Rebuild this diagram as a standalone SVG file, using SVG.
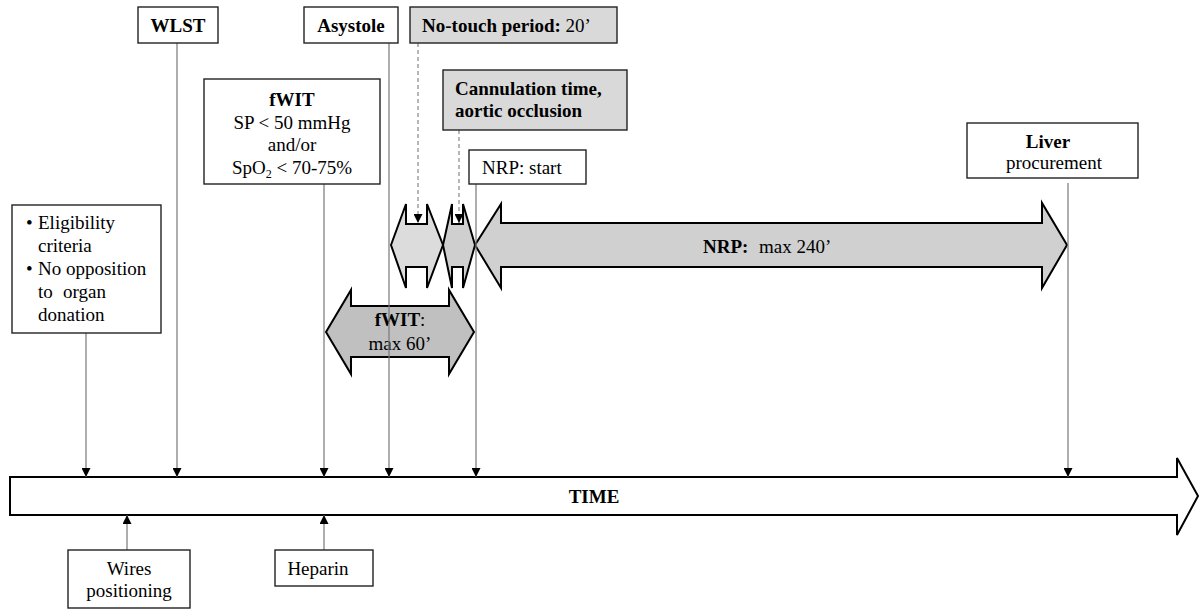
<svg xmlns="http://www.w3.org/2000/svg" width="1199" height="610" viewBox="0 0 1199 610">
<defs>
<marker id="ah" viewBox="0 0 10 10" refX="10" refY="5" markerWidth="9" markerHeight="9" markerUnits="userSpaceOnUse" orient="auto">
<path d="M0,0 L10,5 L0,10 z" fill="#000"/>
</marker>
</defs>
<style>
text{font-family:"Liberation Serif","Times New Roman",serif;font-size:19px;fill:#000}
.b{font-weight:bold}
.box{fill:#fff;stroke:#222;stroke-width:1.4}
.gbox{fill:#d9d9d9;stroke:#222;stroke-width:1.4}
.shape{stroke:#000;stroke-width:2;stroke-linejoin:miter}
.ln{stroke:#777;stroke-width:1.2;fill:none}
.dl{stroke:#888;stroke-width:1.2;stroke-dasharray:4,3;fill:none}
</style>
<rect width="1199" height="610" fill="#fff"/>

<g id="time">
<path class="shape" d="M10,477 L1177,477 L1177,458 L1198,496 L1177,535 L1177,515 L10,515 Z" fill="#fff"/>
<text class="b" x="594" y="503" text-anchor="middle">TIME</text>
</g>

<g id="nrp-arrow">
<path class="shape" fill="#d0d0d0" d="M475,245 L501,204 L501,223 L1042,223 L1042,203 L1067,245 L1042,288 L1042,267 L501,267 L501,288 Z"/>
<text x="703" y="253"><tspan class="b">NRP:</tspan><tspan x="759">max 240’</tspan></text>
</g>

<g id="notouch-arrow">
<path class="shape" fill="#dcdcdc" d="M391,245 L406,204 L406,224 L427,224 L427,204 L443,245 L427,288 L427,267 L406,267 L406,288 Z"/>
</g>
<g id="cannulation-arrow">
<path class="shape" fill="#cfcfcf" d="M443,245 L452,204 L452,224 L463,224 L463,204 L475,245 L463,288 L463,267 L452,267 L452,288 Z"/>
</g>

<g id="fwit-arrow">
<path class="shape" fill="#c0c0c0" d="M326,332 L351,290 L351,306 L449,306 L449,290 L474,332 L449,374 L449,357 L351,357 L351,374 Z"/>
<text x="400" y="326" text-anchor="middle"><tspan class="b">fWIT</tspan>:</text>
<text x="400" y="350" text-anchor="middle">max 60’</text>
</g>

<g id="connectors">
<line class="ln" x1="86" y1="333" x2="86" y2="477" marker-end="url(#ah)"/>
<line class="ln" x1="177" y1="43" x2="177" y2="477" marker-end="url(#ah)"/>
<line class="ln" x1="324" y1="184" x2="324" y2="477" marker-end="url(#ah)"/>
<line class="ln" x1="389" y1="43" x2="389" y2="477" marker-end="url(#ah)"/>
<line class="ln" x1="476" y1="184" x2="476" y2="477" marker-end="url(#ah)"/>
<line class="ln" x1="1068" y1="183" x2="1068" y2="477" marker-end="url(#ah)"/>
<line class="ln" x1="127" y1="550" x2="127" y2="515" marker-end="url(#ah)"/>
<line class="ln" x1="324" y1="550" x2="324" y2="515" marker-end="url(#ah)"/>
<line class="dl" x1="418" y1="43" x2="418" y2="223" marker-end="url(#ah)"/>
<line class="dl" x1="459" y1="130" x2="459" y2="223" marker-end="url(#ah)"/>
</g>

<g id="wlst">
<rect class="box" x="138" y="7" width="80" height="36"/>
<text class="b" x="178" y="32" text-anchor="middle">WLST</text>
</g>
<g id="asystole">
<rect class="box" x="304" y="7" width="94" height="36"/>
<text class="b" x="351" y="32" text-anchor="middle">Asystole</text>
</g>
<g id="notouch">
<rect class="gbox" x="410" y="7" width="207" height="36"/>
<text x="422" y="32"><tspan class="b">No-touch period:</tspan> 20’</text>
</g>
<g id="cannulation">
<rect class="gbox" x="443" y="70" width="184" height="60"/>
<text class="b" x="455" y="95">Cannulation time,</text>
<text class="b" x="455" y="117">aortic occlusion</text>
</g>
<g id="nrp-start">
<rect class="box" x="469" y="150" width="117" height="34"/>
<text x="482" y="174">NRP: start</text>
</g>
<g id="fwit">
<rect class="box" x="204" y="79" width="176" height="105"/>
<text class="b" x="292" y="106" text-anchor="middle">fWIT</text>
<text x="292" y="129" text-anchor="middle">SP &lt; 50 mmHg</text>
<text x="292" y="151" text-anchor="middle">and/or</text>
<text x="292" y="174" text-anchor="middle">SpO<tspan font-size="12" dy="4">2</tspan><tspan dy="-4"> &lt; 70-75%</tspan></text>
</g>
<g id="eligibility">
<rect class="box" x="12" y="205" width="149" height="128"/>
<text x="26" y="229">•</text>
<text x="38" y="229">Eligibility</text>
<text x="38" y="252">criteria</text>
<text x="26" y="275">•</text>
<text x="38" y="275">No opposition</text>
<text x="38" y="298">to<tspan x="63">organ</tspan></text>
<text x="38" y="321">donation</text>
</g>
<g id="liver">
<rect class="box" x="967" y="123" width="171" height="55"/>
<text class="b" x="1048" y="148" text-anchor="middle">Liver</text>
<text x="1054" y="169" text-anchor="middle">procurement</text>
</g>
<g id="wires">
<rect class="box" x="68" y="550" width="122" height="58"/>
<text x="129" y="575" text-anchor="middle">Wires</text>
<text x="129" y="597" text-anchor="middle">positioning</text>
</g>
<g id="heparin">
<rect class="box" x="275" y="550" width="98" height="36"/>
<text x="318" y="575" text-anchor="middle">Heparin</text>
</g>
</svg>
